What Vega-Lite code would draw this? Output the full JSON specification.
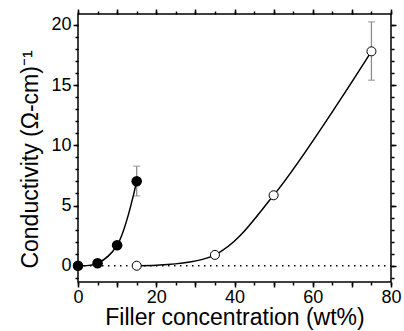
{
  "$schema": "https://vega.github.io/schema/vega-lite/v6.json",
  "autosize": "none",
  "width": 313,
  "height": 268,
  "padding": {"left": 78, "top": 14, "right": 13, "bottom": 49},
  "background": "white",
  "config": {
    "view": {"stroke": "black", "strokeWidth": 1.5},
    "font": "Liberation Sans",
    "axis": {
      "labelFont": "Liberation Sans",
      "titleFont": "Liberation Sans",
      "labelFontSize": 18,
      "titleFontSize": 23,
      "titleFontWeight": "normal",
      "labelColor": "black",
      "titleColor": "black",
      "tickColor": "black",
      "tickWidth": 1.5,
      "domain": false,
      "grid": false,
      "labelFlush": false,
      "labelOverlap": false
    }
  },
  "datasets": {
    "filled": [
      {"conc": 0, "cond": 0},
      {"conc": 5, "cond": 0.2},
      {"conc": 10, "cond": 1.7},
      {"conc": 15, "cond": 7.02}
    ],
    "open": [
      {"conc": 15, "cond": 0},
      {"conc": 35, "cond": 0.9},
      {"conc": 50, "cond": 5.85},
      {"conc": 75, "cond": 17.8}
    ],
    "errors": [
      {"conc": 15, "lo": 5.8, "hi": 8.27},
      {"conc": 75, "lo": 15.4, "hi": 20.25}
    ],
    "baseline": [
      {"conc": 0, "cond": 0},
      {"conc": 80, "cond": 0}
    ]
  },
  "resolve": {"axis": {"x": "independent", "y": "independent"}},
  "layer": [
    {
      "data": {"name": "baseline"},
      "mark": {"type": "line", "color": "black", "strokeWidth": 1.3, "strokeDash": [1.5, 4.5]},
      "encoding": {
        "x": {
          "field": "conc", "type": "quantitative",
          "scale": {"domain": [0, 80], "nice": false, "zero": false},
          "axis": {
            "orient": "bottom",
            "title": "Filler concentration (wt%)",
            "titleFontSize": 23,
            "tickCount": 8,
            "labelExpr": "datum.value % 20 === 0 ? datum.label : ''",
            "tickSize": 5,
            "labelPadding": 1,
            "titlePadding": 0
          }
        },
        "y": {
          "field": "cond", "type": "quantitative",
          "scale": {"domain": [-1.35, 20.9], "nice": false, "zero": false},
          "axis": {
            "orient": "left",
            "title": "Conductivity (Ω-cm)⁻¹",
            "tickCount": 4,
            "tickSize": 5,
            "labelPadding": 2,
            "titlePadding": 8,
            "titleY": 145
          }
        }
      }
    },
    {
      "data": {"name": "errors"},
      "mark": {"type": "errorbar", "color": "#8c8c8c", "thickness": 1.3, "ticks": {"size": 7, "color": "#8c8c8c"}},
      "encoding": {
        "x": {
          "field": "conc", "type": "quantitative",
          "axis": {"orient": "top", "title": null, "labels": false, "tickCount": 8, "tickSize": 5}
        },
        "y": {
          "field": "lo", "type": "quantitative",
          "axis": {"orient": "right", "title": null, "labels": false, "tickCount": 4, "tickSize": 5}
        },
        "y2": {"field": "hi"}
      }
    },
    {
      "data": {"name": "filled"},
      "mark": {"type": "line", "color": "black", "strokeWidth": 1.5, "interpolate": "catmull-rom"},
      "encoding": {
        "x": {
          "field": "conc", "type": "quantitative",
          "axis": {"orient": "bottom", "title": null, "labels": false, "tickCount": 16, "tickSize": 3}
        },
        "y": {
          "field": "cond", "type": "quantitative",
          "axis": {"orient": "left", "title": null, "labels": false, "tickCount": 22, "tickSize": 3}
        }
      }
    },
    {
      "data": {"name": "open"},
      "mark": {"type": "line", "color": "black", "strokeWidth": 1.5, "interpolate": "catmull-rom"},
      "encoding": {
        "x": {
          "field": "conc", "type": "quantitative",
          "axis": {"orient": "top", "title": null, "labels": false, "tickCount": 16, "tickSize": 3}
        },
        "y": {
          "field": "cond", "type": "quantitative",
          "axis": {"orient": "right", "title": null, "labels": false, "tickCount": 22, "tickSize": 3}
        }
      }
    },
    {
      "data": {"name": "filled"},
      "mark": {"type": "circle", "color": "black", "opacity": 1, "size": 112},
      "encoding": {
        "x": {"field": "conc", "type": "quantitative", "axis": null},
        "y": {"field": "cond", "type": "quantitative", "axis": null}
      }
    },
    {
      "data": {"name": "open"},
      "mark": {"type": "point", "shape": "circle", "filled": true, "fill": "white", "stroke": "black", "strokeWidth": 1, "opacity": 1, "size": 82},
      "encoding": {
        "x": {"field": "conc", "type": "quantitative", "axis": null},
        "y": {"field": "cond", "type": "quantitative", "axis": null}
      }
    }
  ]
}
